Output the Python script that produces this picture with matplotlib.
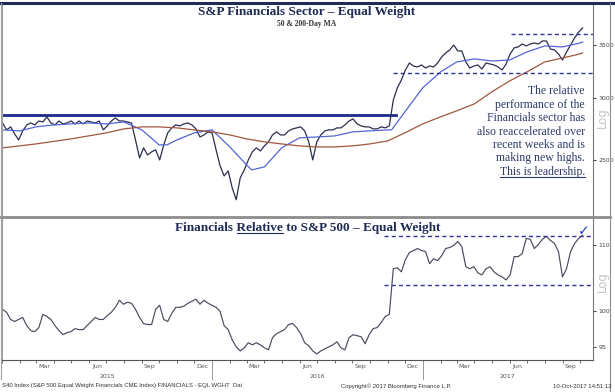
import matplotlib
matplotlib.use("Agg")
import matplotlib.pyplot as plt
import matplotlib.dates as mdates
import matplotlib.ticker as mticker
from matplotlib.lines import Line2D
import pandas as pd

# weekly closes (Fridays), Jan 2015 - Oct 2017
week_start = "2015-01-02"
price = [2786, 2730, 2754, 2698, 2651, 2722, 2770, 2786, 2770, 2802,
         2794, 2836, 2786, 2770, 2802, 2778, 2786, 2802, 2778, 2802,
         2778, 2802, 2794, 2786, 2802, 2730, 2762, 2802, 2827, 2802,
         2802, 2794, 2786, 2651, 2515, 2590, 2537, 2560, 2575, 2500,
         2613, 2706, 2746, 2770, 2762, 2778, 2786, 2770, 2738, 2674,
         2690, 2714, 2706, 2575, 2457, 2386, 2421, 2305, 2225, 2373,
         2428, 2500, 2560, 2590, 2567, 2605, 2636, 2690, 2714, 2690,
         2690, 2722, 2738, 2746, 2754, 2722, 2636, 2500, 2636, 2690,
         2722, 2730, 2730, 2746, 2746, 2770, 2802, 2819, 2778, 2762,
         2754, 2754, 2738, 2738, 2754, 2746, 2762, 2980, 3087, 3159,
         3253, 3320, 3291, 3282, 3301, 3272, 3291, 3282, 3320, 3379,
         3419, 3449, 3500, 3439, 3439, 3330, 3272, 3291, 3301, 3262,
         3320, 3310, 3301, 3282, 3253, 3310, 3409, 3470, 3480, 3510,
         3490, 3510, 3520, 3510, 3541, 3541, 3459, 3449, 3409, 3349,
         3429, 3500, 3572, 3634, 3678]

relative = [100.29, 99.86, 98.85, 98.57, 98.85, 99.14, 97.99, 97.29, 97.15, 97.71,
            99.57, 99.28, 98.85, 97.99, 97.29, 96.73, 97.01, 97.15, 97.57, 97.43,
            97.43, 97.99, 98.57, 99.14, 98.85, 98.85, 99.42, 99.86, 100.58, 101.60,
            101.02, 101.31, 101.16, 100.29, 99.14, 98.28, 98.14, 98.14, 100.29, 100.87,
            98.85, 98.57, 99.71, 100.58, 100.58, 100.73, 101.16, 101.46, 101.75, 101.02,
            101.60, 101.16, 100.87, 100.58, 100.00, 97.99, 97.43, 96.03, 95.07, 94.52,
            94.93, 95.62, 95.34, 95.62, 95.34, 94.93, 94.66, 96.31, 96.87, 97.15,
            97.43, 98.14, 98.28, 97.71, 96.87, 95.62, 95.21, 94.52, 94.11, 94.52,
            94.79, 95.07, 95.34, 95.76, 94.93, 94.66, 96.31, 96.73, 96.59, 96.45,
            95.48, 96.73, 97.57, 97.71, 98.42, 99.28, 99.57, 106.26, 106.41, 105.80,
            107.65, 108.75, 109.06, 109.37, 109.06, 108.90, 107.03, 107.80, 107.50, 108.27,
            109.37, 109.53, 109.85, 110.48, 109.69, 106.57, 106.26, 106.57, 105.65, 105.34,
            106.26, 106.57, 105.80, 105.34, 105.04, 104.58, 105.34, 108.12, 108.12, 108.59,
            110.97, 110.81, 109.37, 110.00, 110.81, 111.29, 110.65, 110.16, 108.90, 105.04,
            106.26, 108.90, 110.16, 110.97, 111.45]

ma50_dates = ["2015-01-02", "2015-02-01", "2015-03-01", "2015-04-01", "2015-05-01",
              "2015-06-01", "2015-07-01", "2015-08-01", "2015-09-01", "2015-10-01",
              "2015-10-15", "2015-11-01", "2015-12-01", "2016-01-01", "2016-02-01",
              "2016-03-01", "2016-03-10", "2016-04-01", "2016-05-01", "2016-06-01",
              "2016-07-01", "2016-08-01", "2016-09-01", "2016-10-01", "2016-11-01",
              "2016-11-08", "2016-12-01", "2017-01-01", "2017-02-01", "2017-03-01",
              "2017-04-01", "2017-05-01", "2017-06-01", "2017-07-01", "2017-08-01",
              "2017-09-01", "2017-10-01", "2017-10-06"]
ma50 = [2730, 2722, 2754, 2770, 2778, 2786, 2778, 2794, 2730, 2613,
        2613, 2651, 2706, 2730, 2597, 2464, 2428, 2450, 2590, 2667,
        2674, 2682, 2714, 2722, 2730, 2730, 2877, 3087, 3234, 3330,
        3360, 3340, 3349, 3429, 3490, 3480, 3520, 3531]

ma200_dates = ["2015-01-02", "2015-03-01", "2015-05-01", "2015-07-01", "2015-08-01",
               "2015-09-01", "2015-10-01", "2015-11-01", "2015-12-01", "2016-01-01",
               "2016-02-01", "2016-03-01", "2016-04-01", "2016-05-01", "2016-06-01",
               "2016-07-01", "2016-08-01", "2016-09-01", "2016-10-01", "2016-11-01",
               "2016-12-01", "2017-01-01", "2017-02-01", "2017-03-01", "2017-04-01",
               "2017-05-01", "2017-06-01", "2017-07-01", "2017-08-01", "2017-09-01",
               "2017-10-01", "2017-10-06"]
ma200 = [2590, 2620, 2659, 2706, 2738, 2754, 2754, 2746, 2730, 2714,
         2690, 2659, 2636, 2620, 2605, 2597, 2597, 2605, 2620, 2643,
         2706, 2778, 2836, 2886, 2946, 3051, 3150, 3234, 3330, 3369,
         3409, 3419]

# drawn levels
old_high = 2852
old_high_end = "2016-11-16"
top_hi, top_hi_start = 3611, "2017-06-04"
top_lo, top_lo_start = 3222, "2016-11-11"
rel_hi, rel_lo, rel_start = 111.3, 103.8, "2016-10-25"

note_lines = ["The relative", "performance of the", "Financials sector has",
              "also reaccelerated over", "recent weeks and is",
              "making new highs.", "This is leadership."]

W, H = 615, 392
def fx(px):
    return px / W
def fy(py):
    return 1 - py / H

navy = "#1f2a55"
weeks = pd.date_range(week_start, periods=len(price), freq="7D")
d50 = pd.to_datetime(ma50_dates)
d200 = pd.to_datetime(ma200_dates)
x0, x1 = pd.Timestamp("2015-01-01"), pd.Timestamp("2017-10-24")

fig = plt.figure(figsize=(6.15, 3.92), dpi=100)
ax1 = fig.add_axes([fx(2), fy(216), fx(591), 211 / H])
ax2 = fig.add_axes([fx(2), fy(360), fx(591), 143 / H])

# top panel
ax1.plot(weeks, price, color="#2b2f4f", lw=0.9)
ax1.plot(d50, ma50, color="#5565d2", lw=0.9)
ax1.plot(d200, ma200, color="#a0573f", lw=0.9)
ax1.plot([x0, pd.Timestamp(old_high_end)], [old_high, old_high], color="#1c2a8c", lw=2)
ax1.plot([pd.Timestamp(top_hi_start), x1], [top_hi, top_hi], color="#2e3596",
         lw=1, dashes=(3, 2.2))
ax1.plot([pd.Timestamp(top_lo_start), x1], [top_lo, top_lo], color="#2e3596",
         lw=1, dashes=(3, 2.2))
ax1.set_yscale("log")
ax1.set_ylim(2122, 3934)
ax1.set_yticks([2500, 3000, 3500])
ax1.set_yticklabels(["2500", "3000", "3500"])

# bottom panel
ax2.plot(weeks, relative, color="#4a4a5e", lw=0.85)
ax2.plot([pd.Timestamp(rel_start), x1], [rel_hi, rel_hi], color="#2e3596",
         lw=1, dashes=(3, 2.2))
ax2.plot([pd.Timestamp(rel_start), x1], [rel_lo, rel_lo], color="#2e3596",
         lw=1, dashes=(3, 2.2))
ax2.set_yscale("log")
ax2.set_ylim(93.3, 114.4)
ax2.set_yticks([95, 100, 110])
ax2.set_yticklabels(["95", "100", "110"])

for ax in (ax1, ax2):
    ax.set_xlim(x0, x1)
    ax.yaxis.set_minor_locator(mticker.NullLocator())
    ax.yaxis.tick_right()
    ax.tick_params(axis="y", which="major", labelsize=4.5, colors="#444444",
                   length=2.5, width=0.8, pad=1.5)
    ax.spines["top"].set_visible(False)
    ax.spines["left"].set_color("#a0a0a0")
    ax.spines["right"].set_color("#777777")
    ax.spines["left"].set_linewidth(0.8)
    ax.spines["right"].set_linewidth(0.8)

ax1.spines["bottom"].set_visible(False)
ax1.tick_params(axis="x", which="both", bottom=False, labelbottom=False)

ax2.spines["bottom"].set_color("#555555")
ax2.spines["bottom"].set_linewidth(0.8)
ax2.xaxis.set_major_locator(mdates.MonthLocator(bymonth=[3, 6, 9, 12], bymonthday=15))
ax2.xaxis.set_major_formatter(mdates.DateFormatter("%b"))
ax2.xaxis.set_minor_locator(mdates.MonthLocator())
ax2.tick_params(axis="x", which="major", length=0, labelsize=4.5,
                labelcolor="#555555", pad=3)
ax2.tick_params(axis="x", which="minor", length=2.5, width=0.6, color="#555555")

# year labels and separators under the axis
xt = ax2.get_xaxis_transform()
year_spans = [("2015", x0, pd.Timestamp("2016-01-01")),
              ("2016", pd.Timestamp("2016-01-01"), pd.Timestamp("2017-01-01")),
              ("2017", pd.Timestamp("2017-01-01"), x1)]
for label, a, b in year_spans:
    ax2.text(a + (b - a) / 2, -0.112, label, transform=xt, ha="center", va="center",
             fontsize=4.5, color="#555555")
for d in ["2016-01-01", "2017-01-01"]:
    ax2.plot([pd.Timestamp(d)] * 2, [0, -0.13], transform=xt, clip_on=False,
             color="#999999", lw=0.7)

# frame lines
fig.add_artist(Line2D([0, 1], [fy(2.5)] * 2, color=navy, lw=2.2))
fig.add_artist(Line2D([0, fx(610)], [fy(216.5)] * 2, color="#8c8c8c", lw=2))
fig.add_artist(Line2D([fx(610)] * 2, [0, fy(2.5)], color="#8c8c8c", lw=0.8))
fig.add_artist(Line2D([fx(1)] * 2, [fy(379), fy(2.5)], color="#a0a0a0", lw=0.8))

# titles
serif = ["Liberation Serif", "DejaVu Serif"]
fig.text(fx(307), fy(12.5), "S&P Financials Sector \u2013 Equal Weight", ha="center",
         va="center", family=serif, weight="bold", fontsize=9.5, color=navy)
fig.text(fx(307), fy(24), "50 & 200-Day MA", ha="center", va="center",
         family=serif, weight="bold", fontsize=5.5, color="#333333")
bottom_title = "Financials Relative to S&P 500 \u2013 Equal Weight"
t2 = fig.text(fx(308), fy(228), bottom_title, ha="center", va="center",
              family=serif, weight="bold", fontsize=9.5, color=navy)

# note on the right of the top panel
note_texts = []
for i, line in enumerate(note_lines):
    t = fig.text(fx(585), fy(91.5 + i * 13.35), line, ha="right", va="center",
                 family=serif, fontsize=8.5, color="#2e3a6a")
    note_texts.append(t)

fig.text(fx(584), fy(231), "\u2713", ha="center", va="center", family="DejaVu Sans",
         fontsize=10, weight="bold", color="#2438c8")

for yy in (118, 282):
    fig.text(fx(602), fy(yy), "Log", rotation=90, ha="center", va="center",
             fontsize=8.5, color="#c4c4c4", family="DejaVu Sans")

# footer
foot = dict(fontsize=4.3, color="#333333", va="center",
            family=["Liberation Sans", "DejaVu Sans"])
fig.text(fx(2), fy(386), "S40 Index (S&P 500 Equal Weight Financials CME Index) "
         "FINANCIALS - EQL WGHT  Dai", ha="left", **foot)
fig.text(fx(396), fy(386), "Copyright\u00a9 2017 Bloomberg Finance L.P.", ha="center", **foot)
fig.text(fx(612), fy(386), "10-Oct-2017 14:51:12", ha="right", **foot)

# underlines
fig.canvas.draw()
r = fig.canvas.get_renderer()
inv = fig.transFigure.inverted()

def text_width(s, **kw):
    tmp = fig.text(0, 0, s, **kw)
    w = tmp.get_window_extent(r).width
    tmp.remove()
    return w

def underline(xa, xb, y, color):
    (fa, fyy), (fb, _) = inv.transform([(xa, y), (xb, y)])
    fig.add_artist(Line2D([fa, fb], [fyy, fyy], color=color, lw=0.8))

tkw = dict(family=serif, weight="bold", fontsize=9.5)
bb = t2.get_window_extent(r)
w_pre = text_width("Financials Relative", **tkw)
w_word = text_width("Relative", **tkw)
underline(bb.x0 + w_pre - w_word, bb.x0 + w_pre, bb.y0 + 1.5, navy)

bb = note_texts[-1].get_window_extent(r)
underline(bb.x0, bb.x1, bb.y0 + 1.0, "#2e3a6a")

fig.savefig("out.png", dpi=100, facecolor="white")
